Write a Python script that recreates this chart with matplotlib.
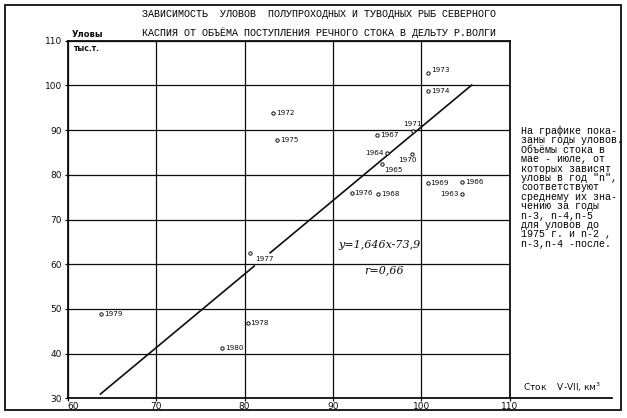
#!/usr/bin/env python3
"""
Catch of semi-anadromous and resident fish vs. Volga delta inflow (scanned chart redraw).
"""

import matplotlib.pyplot as plt
from matplotlib.patches import Rectangle
from matplotlib.lines import Line2D

# Data: river flow May-July (km3) vs catch (thousand t)
years = ['1963', '1964', '1965', '1966', '1967', '1968', '1969', '1970', '1971',
         '1972', '1973', '1974', '1975', '1976', '1977', '1978', '1979', '1980']
flow = [104.6, 96.1, 95.5, 104.65, 95.0, 95.1, 100.7, 98.96, 99.1,
        83.2, 100.8, 100.8, 83.7, 92.1, 80.6, 80.35, 63.8, 77.5]
catch = [75.7, 84.9, 82.4, 78.5, 88.8, 75.7, 78.1, 84.6, 89.8,
         93.9, 102.7, 98.8, 87.8, 75.9, 62.4, 46.8, 48.9, 41.2]

# regression y = 1.646x - 73.9, drawn in two pieces (gap near 1977 label)
slope, intercept = 1.646, -73.9
line_parts = [(63.7, 81.1), (82.9, 105.7)]

x_ticks = [60, 70, 80, 90, 100, 110]
y_ticks = [30, 40, 50, 60, 70, 80, 90, 100, 110]

title_lines = [
    'ЗАВИСИМОСТЬ  УЛОВОВ  ПОЛУПРОХОДНЫХ И ТУВОДНЫХ РЫБ СЕВЕРНОГО',
    'КАСПИЯ ОТ ОБЪЁМА ПОСТУПЛЕНИЯ РЕЧНОГО СТОКА В ДЕЛЬТУ Р.ВОЛГИ',
]
note_lines = [
    'На графике пока-',
    'заны годы уловов.',
    'Объёмы стока в',
    'мае - июле, от',
    'которых зависят',
    'уловы в год "n",',
    'соответствуют',
    'среднему их зна-',
    'чению за годы',
    'n-3, n-4,n-5',
    'для уловов до',
    '1975 г. и n-2 ,',
    'n-3,n-4 -после.',
]

# label placement per year: (dx px, dy px, ha)
label_pos = {
    '1963': (-3, 0, 'right'), '1964': (-3, 0, 'right'), '1965': (3, -6, 'left'),
    '1970': (-5, -6, 'center'), '1971': (-1, 7, 'center'), '1973': (3, 3, 'left'),
    '1977': (5, -6, 'left'),
}

TYPE = 'Liberation Mono'
INK = '#0d0d0d'


def create_plot(output_file='out.png'):
    fig = plt.figure(figsize=(6.27, 4.18), dpi=100)
    fig.patch.set_facecolor('white')
    ax = fig.add_axes([0.108, 0.0471, 0.705, 0.8555])

    # grid of the hand-drawn sheet
    for xv in x_ticks:
        ax.axvline(xv, color=INK, linewidth=0.9, zorder=1)
    for yv in y_ticks:
        ax.axhline(yv, color=INK, linewidth=0.9, zorder=1)

    # regression line
    for x0, x1 in line_parts:
        ax.plot([x0, x1], [slope * x0 + intercept, slope * x1 + intercept],
                color=INK, linewidth=1.2, zorder=2)

    # points with year labels
    ax.plot(flow, catch, 'o', markersize=2.4, markerfacecolor='white',
            markeredgecolor=INK, markeredgewidth=0.7, zorder=3)
    for yr, xv, yv in zip(years, flow, catch):
        dx, dy, ha = label_pos.get(yr, (3, 0, 'left'))
        ax.annotate(yr, (xv, yv), xytext=(dx * 0.72, dy * 0.72), textcoords='offset points',
                    ha=ha, va='center', fontsize=5.2, color=INK, zorder=4)

    ax.text(95.25, 64.3, 'y=1,646x-73,9', fontsize=8, family='DejaVu Serif',
            style='italic', ha='center', va='center', color=INK)
    ax.text(95.8, 58.7, 'r=0,66', fontsize=8, family='DejaVu Serif',
            style='italic', ha='center', va='center', color=INK)

    ax.set_xlim(60, 110)
    ax.set_ylim(30, 110)
    ax.set_xticks(x_ticks)
    ax.set_yticks(y_ticks)
    ax.tick_params(axis='both', length=2, width=0.9, labelsize=6.5, pad=2, colors=INK)
    ax.tick_params(axis='x', pad=1)
    ax.get_xticklabels()[0].set_ha('left')
    for sp in ax.spines.values():
        sp.set_linewidth(1.3)
        sp.set_color(INK)

    # x axis runs on under the axis caption
    ax.add_line(Line2D([1.0, 1.2306], [0, 0], transform=ax.transAxes, color=INK,
                       linewidth=1.3, clip_on=False))
    ax.text(1.03, 0.012, 'Сток    V-VII, км$^3$', transform=ax.transAxes, fontsize=6.5,
            ha='left', va='bottom', color=INK)
    ax.text(0.008, 1.006, 'Уловы', transform=ax.transAxes, fontsize=6, fontweight='bold',
            ha='left', va='bottom', color=INK)
    ax.text(0.012, 0.99, 'тыс.т.', transform=ax.transAxes, fontsize=5.5, fontweight='bold',
            ha='left', va='top', color=INK)

    # typed title and side note
    for i, line in enumerate(title_lines):
        fig.text(142 / 627, 1 - (14 + 19 * i) / 418, line, family=TYPE, fontsize=7.2,
                 ha='left', va='center', color='black')
    for i, line in enumerate(note_lines):
        fig.text(521 / 627, 1 - (131 + 9.4 * i) / 418, line, family=TYPE, fontsize=7.2,
                 ha='left', va='center', color='black')

    # sheet frame
    fig.add_artist(Rectangle((4.5 / 627, 8 / 418), 616.5 / 627, 405 / 418,
                             transform=fig.transFigure, fill=False,
                             edgecolor=INK, linewidth=1.3))

    plt.savefig(output_file, dpi=100, facecolor='white')
    print(f'Plot saved to {output_file}')
    return fig


if __name__ == '__main__':
    create_plot()
